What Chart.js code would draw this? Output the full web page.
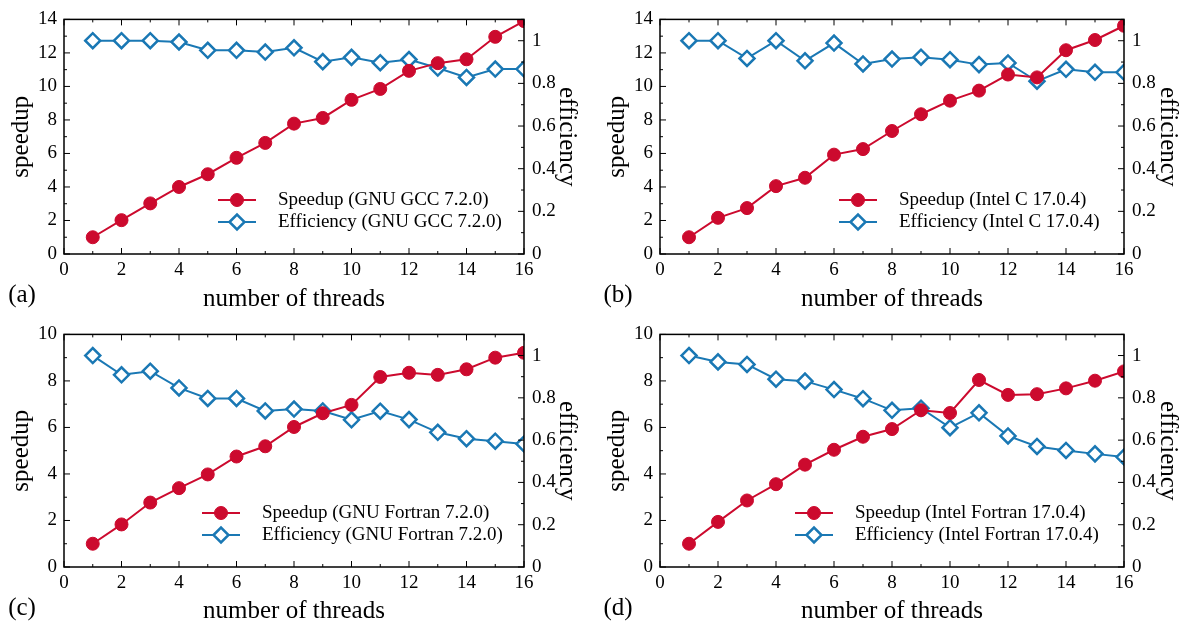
<!DOCTYPE html>
<html>
<head>
<meta charset="utf-8">
<script src="https://cdn.jsdelivr.net/npm/chart.js@4.4.1/dist/chart.umd.min.js"></script>
<style>
  body { margin: 0; background: #fff; width: 1189px; height: 630px; position: relative; overflow: hidden; }
  canvas { position: absolute; }
</style>
</head>
<body>
<canvas id="chart-a" width="588" height="315" style="left:0;top:0"></canvas>
<canvas id="chart-b" width="593" height="315" style="left:596px;top:0"></canvas>
<canvas id="chart-c" width="588" height="315" style="left:0;top:315px"></canvas>
<canvas id="chart-d" width="593" height="315" style="left:596px;top:315px"></canvas>
<script>
// threads on the x axis
var threads = [1, 2, 3, 4, 5, 6, 7, 8, 9, 10, 11, 12, 13, 14, 15, 16];

// (a) GNU GCC 7.2.0
var speedupGcc = [1.0, 2.02, 3.02, 4.0, 4.76, 5.74, 6.63, 7.78, 8.12, 9.2, 9.85, 10.93, 11.39, 11.62, 12.96, 13.9];
var efficiencyGcc = [1.0, 1.0, 1.0, 0.994, 0.955, 0.955, 0.947, 0.967, 0.902, 0.922, 0.897, 0.912, 0.872, 0.828, 0.867, 0.867];

// (b) Intel C 17.0.4
var speedupIcc = [1.0, 2.16, 2.74, 4.05, 4.55, 5.93, 6.26, 7.34, 8.34, 9.15, 9.75, 10.71, 10.54, 12.16, 12.77, 13.62];
var efficiencyIcc = [1.0, 1.0, 0.917, 1.0, 0.906, 0.989, 0.891, 0.914, 0.923, 0.911, 0.888, 0.896, 0.81, 0.866, 0.852, 0.852];

// (c) GNU Fortran 7.2.0
var speedupGfortran = [1.0, 1.83, 2.77, 3.39, 3.98, 4.75, 5.19, 6.02, 6.61, 6.97, 8.17, 8.35, 8.26, 8.5, 9.0, 9.21];
var efficiencyGfortran = [1.0, 0.909, 0.926, 0.847, 0.797, 0.797, 0.738, 0.747, 0.738, 0.696, 0.737, 0.697, 0.637, 0.607, 0.595, 0.582];

// (d) Intel Fortran 17.0.4
var speedupIfort = [1.0, 1.94, 2.86, 3.56, 4.4, 5.04, 5.6, 5.93, 6.74, 6.62, 8.04, 7.4, 7.43, 7.68, 8.01, 8.41];
var efficiencyIfort = [1.0, 0.97, 0.958, 0.888, 0.879, 0.839, 0.796, 0.741, 0.751, 0.659, 0.729, 0.62, 0.57, 0.551, 0.535, 0.52];

var red = '#cc0a2e';
var blue = '#1a78b4';
var serif = "'Liberation Serif', 'Times New Roman', serif";

Chart.defaults.font.family = serif;
Chart.defaults.color = '#000';

// box around the plot + inward tick marks (major and minor)
var frameTicks = {
  id: 'frameTicks',
  afterDatasetsDraw: function (chart) {
    var ctx = chart.ctx, a = chart.chartArea, s = chart.scales;
    var p = chart.options.plugins.frameTicks;
    ctx.save();
    ctx.strokeStyle = '#000';
    ctx.lineWidth = 1;
    ctx.beginPath();
    function ticks(scale, minor, major, draw) {
      var n = Math.round((scale.max - scale.min) / minor);
      for (var i = 0; i <= n; i++) {
        var v = scale.min + i * minor;
        var isMajor = Math.abs(v / major - Math.round(v / major)) < 1e-6;
        draw(scale.getPixelForValue(v), isMajor ? 6 : 3);
      }
    }
    ticks(s.x, 1, 2, function (px, len) {
      ctx.moveTo(px, a.bottom); ctx.lineTo(px, a.bottom - len);
      ctx.moveTo(px, a.top); ctx.lineTo(px, a.top + len);
    });
    ticks(s.y, 1, 2, function (py, len) {
      ctx.moveTo(a.left, py); ctx.lineTo(a.left + len, py);
    });
    ticks(s.y1, 0.1, 0.2, function (py, len) {
      ctx.moveTo(a.right, py); ctx.lineTo(a.right - len, py);
    });
    ctx.stroke();
    ctx.lineWidth = 1.5;
    ctx.strokeRect(a.left, a.top, a.right - a.left, a.bottom - a.top);

    // panel tag
    ctx.fillStyle = '#000';
    ctx.font = '25px ' + serif;
    ctx.textAlign = 'center';
    ctx.textBaseline = 'middle';
    ctx.fillText(p.tag, a.left - 42, a.bottom + 41);
    ctx.restore();
  }
};

// legend inside the plot, lower right
var insideLegend = {
  id: 'insideLegend',
  afterDraw: function (chart) {
    var ctx = chart.ctx, a = chart.chartArea;
    var p = chart.options.plugins.insideLegend;
    ctx.save();
    chart.data.datasets.forEach(function (ds, i) {
      var y = a.bottom - 54 + i * 22;
      var x0 = a.left + p.x, x1 = x0 + 38;
      ctx.strokeStyle = ds.borderColor;
      ctx.lineWidth = 2;
      ctx.beginPath();
      ctx.moveTo(x0, y); ctx.lineTo(x1, y);
      ctx.stroke();
      ctx.fillStyle = ds.pointBackgroundColor;
      ctx.strokeStyle = ds.borderColor;
      ctx.lineWidth = ds.pointBorderWidth;
      Chart.helpers.drawPoint(ctx, {pointStyle: ds.pointStyle, radius: ds.pointRadius, rotation: 0, borderWidth: ds.pointBorderWidth}, (x0 + x1) / 2, y);
      ctx.fillStyle = '#000';
      ctx.font = '19px ' + serif;
      ctx.textAlign = 'left';
      ctx.textBaseline = 'middle';
      ctx.fillText(ds.label, x1 + 22, y);
    });
    ctx.restore();
  }
};

function pts(ys) {
  return threads.map(function (t, i) { return {x: t, y: ys[i]}; });
}

function makePanel(id, tag, compiler, speedup, efficiency, yMax, legendX, top, rightW, xH, titlePad) {
  var ctx = document.getElementById(id).getContext('2d');
  return new Chart(ctx, {
    type: 'line',
    data: {
      datasets: [{
        label: 'Speedup (' + compiler + ')',
        data: pts(speedup),
        yAxisID: 'y',
        borderColor: red,
        backgroundColor: red,
        pointBackgroundColor: red,
        pointStyle: 'circle',
        pointRadius: 6.5,
        pointBorderWidth: 1,
        borderWidth: 2,
        clip: 0
      }, {
        label: 'Efficiency (' + compiler + ')',
        data: pts(efficiency),
        yAxisID: 'y1',
        borderColor: blue,
        backgroundColor: '#fff',
        pointBackgroundColor: '#fff',
        pointStyle: 'rectRot',
        pointRadius: 7.5,
        pointBorderWidth: 2.5,
        borderWidth: 2,
        clip: 0
      }]
    },
    options: {
      responsive: false,
      animation: false,
      layout: { padding: { top: top, left: 0, right: 0, bottom: 0 } },
      scales: {
        x: {
          type: 'linear',
          min: 0, max: 16,
          grid: { display: false, drawTicks: false },
          border: { display: false },
          ticks: { stepSize: 2, padding: 5, maxRotation: 0, autoSkip: false, font: { size: 19 } },
          title: { display: true, text: 'number of threads', font: { size: 25 }, padding: { top: 0, bottom: titlePad } },
          afterFit: function (scale) { scale.height = xH; }
        },
        y: {
          position: 'left',
          min: 0, max: yMax,
          grid: { display: false, drawTicks: false },
          border: { display: false },
          ticks: { stepSize: 2, padding: 7, font: { size: 19 } },
          title: { display: true, text: 'speedup', font: { size: 25 }, padding: { top: 6, bottom: 0 } },
          afterFit: function (scale) { scale.width = 64; }
        },
        y1: {
          position: 'right',
          min: 0, max: 1.1,
          grid: { display: false, drawTicks: false },
          border: { display: false },
          ticks: {
            stepSize: 0.2, includeBounds: false, padding: 8, font: { size: 19 },
            callback: function (v) { return String(Number(v.toFixed(1))); }
          },
          title: { display: true, text: 'efficiency', font: { size: 25 }, padding: { top: 6, bottom: 0 } },
          afterFit: function (scale) { scale.width = rightW; }
        }
      },
      plugins: {
        legend: { display: false },
        tooltip: { enabled: false },
        frameTicks: { tag: tag },
        insideLegend: { x: legendX }
      }
    },
    plugins: [frameTicks, insideLegend]
  });
}

makePanel('chart-a', '(a)', 'GNU GCC 7.2.0', speedupGcc, efficiencyGcc, 14, 154, 12, 64, 61, 1);
makePanel('chart-b', '(b)', 'Intel C 17.0.4', speedupIcc, efficiencyIcc, 14, 179, 12, 65, 61, 1);
makePanel('chart-c', '(c)', 'GNU Fortran 7.2.0', speedupGfortran, efficiencyGfortran, 10, 138, 11, 64, 63, 4);
makePanel('chart-d', '(d)', 'Intel Fortran 17.0.4', speedupIfort, efficiencyIfort, 10, 135, 11, 65, 63, 4);
</script>
</body>
</html>
